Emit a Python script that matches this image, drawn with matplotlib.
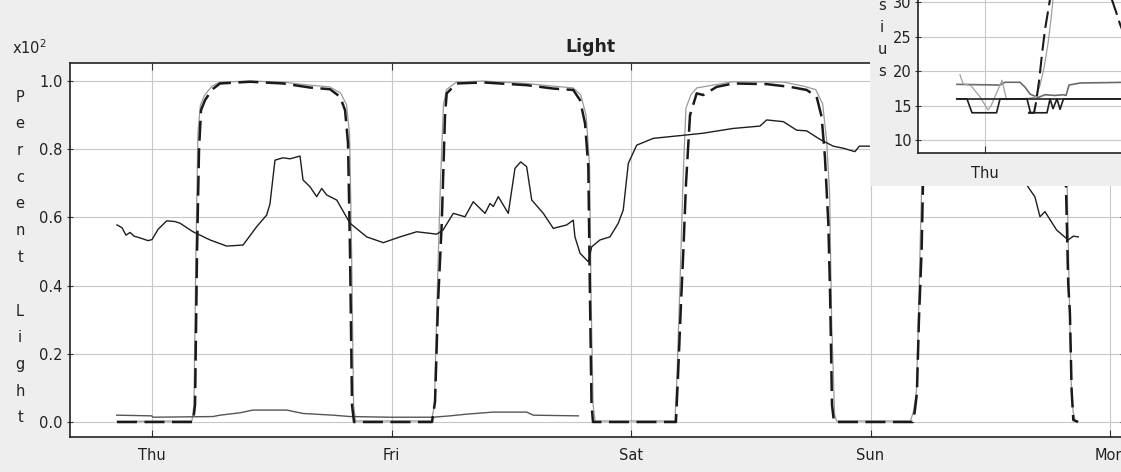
import matplotlib
matplotlib.use("Agg")
from matplotlib import pyplot as plt
from matplotlib.patches import Rectangle

# ---- data (hours since Thursday 00:00) ----
day_hours = [0, 24, 48, 72, 96]
day_names = ["Thu", "Fri", "Sat", "Sun", "Mon"]
light_ticks = [0.0, 0.2, 0.4, 0.6, 0.8, 1.0]

# light sensor 1 (black dashed)
light_a_t = [-3.51, 4.11, 4.31, 4.51, 4.71, 4.91, 5.31, 6.01, 6.81, 9.82, 13.13, 15.83, 17.84, 18.84, 19.34, 19.64, 19.84, 20.04, 20.24,
             28.06, 28.36, 28.66, 29.03, 29.36, 29.53, 30.53, 33.20, 37.54, 40.21, 42.21, 42.89, 43.39, 43.72, 43.89, 44.04, 44.19,
             52.50, 52.70, 53.01, 53.24, 53.51, 53.91, 54.58, 55.24, 56.58, 58.25, 61.59, 63.93, 65.60, 66.60, 67.10, 67.43, 67.77, 67.94, 68.14, 68.34,
             76.25, 76.45, 76.65, 76.85, 77.12, 77.25, 77.55, 78.46, 80.96, 84.97, 89.98, 91.18, 91.58, 91.81, 91.98, 92.15, 92.32, 92.79]
light_a_v = [0.0, 0.0, 0.05, 0.5, 0.8, 0.915, 0.944, 0.975, 0.993, 0.998, 0.993, 0.981, 0.976, 0.954, 0.915, 0.818, 0.5, 0.05, 0.0,
             0.0, 0.06, 0.35, 0.58, 0.90, 0.964, 0.993, 0.996, 0.988, 0.978, 0.974, 0.944, 0.876, 0.749, 0.358, 0.05, 0.0,
             0.0, 0.13, 0.35, 0.50, 0.70, 0.90, 0.964, 0.959, 0.983, 0.993, 0.991, 0.983, 0.974, 0.954, 0.895, 0.778, 0.583, 0.387, 0.05, 0.0,
             0.0, 0.035, 0.085, 0.30, 0.504, 0.69, 0.90, 0.97, 0.99, 0.99, 0.97, 0.93, 0.70, 0.406, 0.32, 0.094, 0.006, 0.0]

# light sensor 2 (grey)
light_b_t = [-3.51, 4.0, 4.2, 4.4, 4.6, 4.85, 5.3, 6.0, 6.8, 9.8, 13.1, 15.8, 17.8, 18.9, 19.5, 19.8, 20.0, 20.2, 20.4,
             28.0, 28.3, 28.6, 28.9, 29.2, 29.5, 30.5, 33.2, 37.5, 40.2, 42.2, 42.95, 43.5, 43.85, 44.0, 44.2, 44.4,
             52.4, 52.6, 52.9, 53.2, 53.5, 54.0, 54.6, 58.2, 63.3, 65.3, 66.5, 67.2, 67.6, 67.9, 68.1, 68.4, 68.6,
             76.0, 76.3, 76.6, 76.8, 77.0, 77.15, 77.5, 78.4, 81.0, 85.0, 90.0, 91.3, 91.7, 91.9, 92.1, 92.3, 92.5, 92.8]
light_b_v = [0.002, 0.003, 0.05, 0.5, 0.85, 0.93, 0.96, 0.985, 0.997, 1.0, 0.997, 0.988, 0.983, 0.965, 0.93, 0.84, 0.5, 0.05, 0.003,
             0.003, 0.05, 0.4, 0.7, 0.93, 0.975, 0.997, 1.0, 0.993, 0.985, 0.98, 0.96, 0.9, 0.75, 0.36, 0.05, 0.003,
             0.003, 0.13, 0.4, 0.7, 0.92, 0.96, 0.98, 0.998, 0.997, 0.985, 0.975, 0.934, 0.827, 0.67, 0.3, 0.02, 0.003,
             0.003, 0.03, 0.09, 0.3, 0.55, 0.72, 0.93, 0.98, 0.995, 0.995, 0.98, 0.94, 0.7, 0.4, 0.12, 0.03, 0.005, 0.002]

# low reading near zero (dark grey)
low_t = [-3.54, -0.03, 0.10, 6.11, 6.81, 8.82, 10.12, 13.50, 15.13, 18.14, 19.84, 23.85, 28.16, 29.86, 31.53, 34.17, 37.54, 38.21, 42.72]
low_v = [0.020, 0.018, 0.014, 0.016, 0.020, 0.027, 0.035, 0.035, 0.025, 0.020, 0.016, 0.014, 0.014, 0.018, 0.023, 0.029, 0.029, 0.020, 0.018]

# middle reading (black thin)
mid_t = [-3.51, -3.01, -2.61, -2.20, -1.80, -1.20, -0.40, 0.0, 0.60, 1.47, 2.30, 2.81, 4.11, 5.81, 7.48, 9.12, 10.49, 11.49, 11.82,
         12.32, 13.13, 13.83, 14.33, 14.83, 15.13, 15.83, 16.50, 17.00, 17.50, 18.51, 19.84, 21.51, 23.18, 24.85, 26.52, 28.53,
         29.16, 30.19, 31.36, 32.19, 33.37, 33.87, 34.20, 34.70, 35.70, 36.37, 36.94, 37.54, 38.05, 39.21, 40.21, 41.55, 42.21,
         42.38, 42.89, 43.72, 44.06, 44.89, 45.89, 46.72, 47.22, 47.73, 48.57, 50.23, 53.58, 55.21, 58.22, 60.92, 61.59, 63.26,
         64.60, 65.60, 66.93, 68.27, 69.27, 70.44, 70.87, 71.94, 76.95, 82.97, 86.97, 87.78, 88.48, 88.98, 89.48, 90.65, 91.81,
         92.32, 92.82]
mid_v = [0.578, 0.570, 0.548, 0.556, 0.545, 0.540, 0.532, 0.535, 0.565, 0.590, 0.588, 0.583, 0.558, 0.534, 0.516, 0.519, 0.573, 0.607, 0.640,
         0.768, 0.775, 0.772, 0.776, 0.780, 0.710, 0.690, 0.661, 0.685, 0.666, 0.651, 0.583, 0.543, 0.526, 0.543, 0.558, 0.551,
         0.563, 0.612, 0.602, 0.646, 0.612, 0.641, 0.632, 0.661, 0.612, 0.744, 0.763, 0.749, 0.651, 0.612, 0.568, 0.578, 0.592,
         0.543, 0.495, 0.470, 0.514, 0.534, 0.543, 0.583, 0.622, 0.759, 0.812, 0.832, 0.842, 0.847, 0.861, 0.868, 0.886, 0.881,
         0.856, 0.854, 0.829, 0.809, 0.803, 0.793, 0.809, 0.809, 0.800, 0.780, 0.720, 0.690, 0.660, 0.602, 0.617, 0.563, 0.534,
         0.545, 0.543]

# inset: temperatures, degrees Celsius
temp_ticks = [10, 15, 20, 25, 30]
setpoint_t = [-3.5, 18.0]
setpoint_v = [16, 16]
ctrl_t = [-3.5, -2.25, -1.63, 1.44, 1.88, 5.25, 5.69, 7.75, 8.13, 8.5, 9.0, 9.38, 9.81, 18.0]
ctrl_v = [16, 16, 14, 14, 16, 16, 14, 14, 16, 14.6, 16, 14.5, 16, 16]
room_t = [-3.5, 1.88, 2.5, 4.38, 5.0, 5.63, 6.63, 7.5, 8.75, 9.75, 10.13, 10.5, 11.9, 18.0]
room_v = [18.1, 18.0, 18.4, 18.4, 17.7, 16.7, 16.2, 16.6, 16.5, 16.6, 16.5, 18.0, 18.3, 18.4]
probe_t = [-3.13, -2.75, -1.75, -0.63, 0.38, 0.75, 1.5, 2.13, 2.69, 3.75, 5.63, 6.38, 6.88, 7.38, 7.88, 8.25, 8.5, 8.88]
probe_v = [19.5, 18.2, 17.9, 16.3, 14.4, 15.0, 17.0, 18.7, 15.9, 16.0, 16.1, 16.3, 18.0, 20.5, 24.0, 27.5, 30.3, 34.5]
surface_t = [5.38, 6.13, 6.38, 6.75, 7.13, 7.5, 8.0, 8.5, 8.88, 12.5, 15.9, 16.4, 16.9, 17.5]
surface_v = [14, 14, 15.5, 18.5, 22.5, 26, 29.5, 33, 36, 42, 30.2, 28.5, 26.7, 25]

# ---- layout ----
W, H = 1121, 472
BG = "#eeeeee"
GRID = "#c8c8c8"
TXT = "#222222"
FS = 10.5


def fx(px):
    return px / W


def fy(py):
    return 1 - py / H


plt.rcParams["font.family"] = ["DejaVu Sans"]
fig = plt.figure(figsize=(W / 100, H / 100), dpi=100, facecolor=BG)

# main chart
ax = fig.add_axes([fx(70), fy(437), fx(1123) - fx(70), fy(63) - fy(437)], zorder=0)
ax.set_facecolor("white")
ax.plot(light_b_t, light_b_v, color="#9a9a9a", lw=0.9, zorder=3)
ax.plot(light_a_t, light_a_v, color="#1a1a1a", lw=1.8, dashes=(8, 3), zorder=4)
ax.plot(low_t, low_v, color="#555555", lw=1.0, zorder=3)
ax.plot(mid_t, mid_v, color="#1e1e1e", lw=1.0, zorder=5)

ax.set_xlim(-8.22, 97.3)
ax.set_ylim(-0.044, 1.053)
ax.set_xticks(day_hours)
ax.set_xticklabels(day_names)
ax.set_yticks(light_ticks)
ax.set_yticklabels([f"{v:.1f}" for v in light_ticks])
ax.grid(True, color=GRID, lw=0.8)
ax.set_axisbelow(True)
ax.tick_params(axis="x", direction="in", length=5, top=True, color="#333333", labelsize=FS, labelcolor=TXT, pad=8)
ax.tick_params(axis="y", direction="inout", length=5, right=True, color="#333333", labelsize=FS, labelcolor=TXT, pad=3)
for s in ax.spines.values():
    s.set_color("#222222")
    s.set_linewidth(1.2)

fig.text(fx(12), fy(48), r"x10$^2$", ha="left", va="center", fontsize=FS, color=TXT)
fig.text(fx(590), fy(47), "Light", ha="center", va="center", fontsize=12.5, weight="bold", color=TXT)
for i, ch in enumerate("Percent Light"):
    fig.text(fx(20), fy(97 + i * 26.75), ch, ha="center", va="center", fontsize=FS, color=TXT)

# inset panel covering the top-right corner
fig.add_artist(Rectangle((fx(870), fy(186)), 0.3, 0.5, transform=fig.transFigure,
                         facecolor=BG, edgecolor="none", zorder=4))

axi = fig.add_axes([fx(918), fy(153.3), fx(1140) - fx(918), fy(-30) - fy(153.3)], zorder=5)
axi.set_facecolor("white")
axi.plot(room_t, room_v, color="#6a6a6a", lw=1.2, zorder=3)
axi.plot(probe_t, probe_v, color="#a0a0a0", lw=0.9, zorder=3)
axi.plot(setpoint_t, setpoint_v, color="#1e1e1e", lw=1.2, zorder=4)
axi.plot(ctrl_t, ctrl_v, color="#1e1e1e", lw=1.2, zorder=4)
axi.plot(surface_t, surface_v, color="#1a1a1a", lw=1.5, dashes=(8, 3), zorder=5)
axi.set_xlim(-8.375, 19.375)
axi.set_ylim(8.153, 34.6)
axi.set_xticks([0])
axi.set_xticklabels(["Thu"])
axi.set_yticks(temp_ticks)
axi.grid(True, color=GRID, lw=0.8)
axi.set_axisbelow(True)
axi.tick_params(axis="x", direction="in", length=5, color="#333333", labelsize=FS, labelcolor=TXT, pad=9)
axi.tick_params(axis="y", direction="inout", length=5, color="#333333", labelsize=FS, labelcolor=TXT, pad=2)
for s in axi.spines.values():
    s.set_color("#222222")
    s.set_linewidth(1.2)
for i, ch in enumerate("sius"):
    fig.text(fx(882), fy(5 + i * 22.3), ch, ha="center", va="center", fontsize=FS, color=TXT, zorder=6)

fig.savefig("out.png", dpi=100, facecolor=BG)
